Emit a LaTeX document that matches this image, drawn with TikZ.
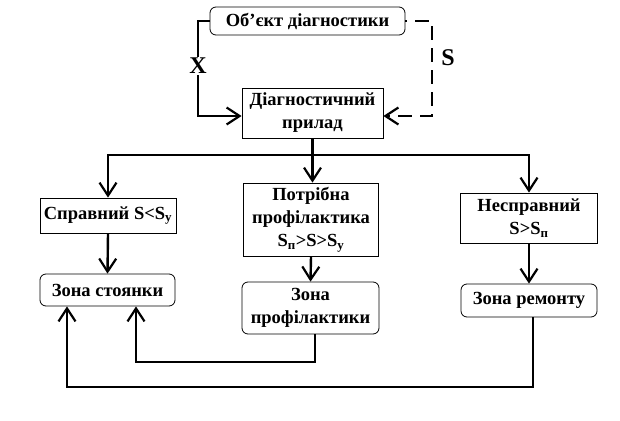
\documentclass[tikz,border=0pt]{standalone}
\usepackage{fontspec}
\setmainfont{Liberation Serif}
\usetikzlibrary{arrows.meta}
\begin{document}
\begin{tikzpicture}[x=1pt,y=-1pt,
  box/.style={draw=black,line width=0.8pt,inner sep=0pt,align=center,font=\bfseries\fontsize{18.5}{23}\selectfont},
  rbox/.style={box,rounded corners=6pt},
  conn/.style={line width=2.4pt},
  arr/.style={conn,-{Straight Barb[length=13pt,width=17pt,line width=2.2pt]}},
  lbl/.style={font=\bfseries\fontsize{24}{26}\selectfont,inner sep=1pt}]
\useasboundingbox (0,0) rectangle (620,420);
\node[rbox,minimum width=195pt,minimum height=28pt] (obj) at (307.5,21) {Об’єкт діагностики};
\node[box,minimum width=141pt,minimum height=50pt] (diag) at (312.5,113) {Діагностичний\\прилад};
\node[box,minimum width=136pt,minimum height=35pt] (sprav) at (108,215.5) {Справний S<S\textsubscript{у}};
\node[box,minimum width=135pt,minimum height=73pt] (potr) at (311,219.5) {Потрібна\\профілактика\\S\textsubscript{п}>S>S\textsubscript{у}};
\node[box,minimum width=137pt,minimum height=50pt] (nespr) at (529,218) {Несправний\\S>S\textsubscript{п}};
\node[rbox,minimum width=135pt,minimum height=32pt] (zst) at (107.5,290) {Зона стоянки};
\node[rbox,minimum width=137pt,minimum height=52pt] (zpr) at (310.5,308) {Зона\\профілактики};
\node[rbox,minimum width=136pt,minimum height=33pt] (zrem) at (529,300.5) {Зона ремонту};
% X path
\coordinate (xc) at (198,21);
\draw[arr] (obj.west) -- (xc) |- ([yshift=-3pt]diag.west);
\node[lbl,fill=white] (xl) at (198,66) {X};
% S dashed path
\coordinate (sc) at (432,21);
\draw[arr,dash pattern=on 14pt off 8pt,dash phase=12pt] (obj.east) -- (sc) |- ([yshift=-3pt]diag.east);
\node[lbl] (sl) at (448,58) {S};
% branches
\coordinate (j) at (312.5,155);
\draw[conn] (diag.south) -- (j);
\draw[arr] (j) -| (sprav.north);
\draw[arr] (j) -- (j |- potr.north);
\draw[arr] (j) -| (nespr.north);
\draw[arr] (sprav.south) -- (zst.north);
\draw[arr] (potr.south) -- (zpr.north);
\draw[arr] (nespr.south) -- (nespr.south |- zrem.north);
% returns
\coordinate (r1) at (315,362);
\coordinate (r2) at (533,387);
\draw[arr] ([xshift=4.5pt]zpr.south) -- (r1) -| ([xshift=28.5pt]zst.south);
\draw[arr] ([xshift=4pt]zrem.south) -- (r2) -| ([xshift=-40.5pt]zst.south);
\end{tikzpicture}
\end{document}
